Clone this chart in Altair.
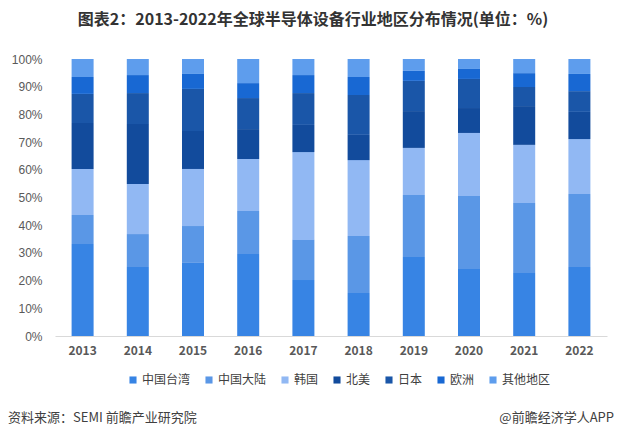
import altair as alt
import pandas as pd

years = ["2013", "2014", "2015", "2016", "2017", "2018", "2019", "2020", "2021", "2022"]
regions = ["中国台湾", "中国大陆", "韩国", "北美", "日本", "欧洲", "其他地区"]
colors = ["#3784e4", "#5a97e6", "#91b8f3", "#124b9c", "#1a56a8", "#1868d3", "#5e9ded"]

taiwan   = [33.2, 24.9, 26.4, 29.6, 20.2, 15.5, 28.5, 24.2, 22.7, 24.9]
mainland = [10.5, 11.9, 13.3, 15.5, 14.5, 20.6, 22.4, 26.3, 25.3, 26.4]
korea    = [16.6, 18.1, 20.6, 18.8, 31.7, 27.4, 17.0, 22.8, 21.0, 19.8]
namerica = [16.6, 21.6, 13.7, 10.8, 9.8, 9.1, 13.3, 9.0, 14.0, 9.8]
japan    = [10.5, 11.2, 15.2, 11.2, 11.5, 14.4, 10.9, 10.5, 6.9, 7.5]
europe   = [6.1, 6.5, 5.4, 5.4, 6.5, 6.5, 3.6, 3.6, 5.0, 6.2]
others   = [6.5, 5.8, 5.4, 8.7, 5.8, 6.5, 4.3, 3.6, 5.1, 5.4]

series = [taiwan, mainland, korea, namerica, japan, europe, others]
rows = []
for i, (name, vals) in enumerate(zip(regions, series)):
    for y, v in zip(years, vals):
        rows.append({"year": y, "region": name, "value": v, "idx": i})
df = pd.DataFrame(rows)

FONT = "Noto Sans CJK SC"
TITLE = "图表2：2013-2022年全球半导体设备行业地区分布情况(单位：%)"

bars = alt.Chart(df).mark_bar(size=22).encode(
    x=alt.X("year:N", title=None, sort=years,
            scale=alt.Scale(paddingInner=0.6, paddingOuter=0.3),
            axis=alt.Axis(labelAngle=0, ticks=False, domainColor="#d9d9d9",
                          labelColor="#595959", labelFontSize=12, labelFontWeight="bold",
                          labelPadding=9, labelFont=FONT)),
    y=alt.Y("value:Q", title=None, stack="normalize",
            axis=alt.Axis(format="%", values=[i / 10 for i in range(11)],
                          labelOverlap=False,
                          grid=False, ticks=False, domain=False,
                          labelColor="#595959", labelFontSize=12, labelPadding=13,
                          labelFont="Liberation Sans")),
    color=alt.Color("region:N", sort=regions,
                    scale=alt.Scale(domain=regions, range=colors),
                    legend=alt.Legend(title=None, orient="none", direction="horizontal",
                                      legendX=72, legendY=315, symbolType="square",
                                      symbolSize=50, symbolStrokeWidth=0,
                                      labelFontSize=12, labelColor="#404040",
                                      labelOffset=3, columnPadding=12, padding=0,
                                      labelFont=FONT)),
    order=alt.Order("idx:Q", sort="ascending"),
)

ttl = pd.DataFrame({"t": [TITLE]})
src = pd.DataFrame({"t": ["资料来源：SEMI 前瞻产业研究院"]})
right = pd.DataFrame({"t": ["@前瞻经济学人APP"]})

title_text = alt.Chart(ttl).mark_text(align="center", baseline="middle", fontSize=16,
                                      fontWeight="bold", color="#333333", font=FONT).encode(
    text="t:N", x=alt.value(258), y=alt.value(-39))
src_text = alt.Chart(src).mark_text(align="left", baseline="middle", fontSize=13,
                                    color="#404040", font=FONT).encode(
    text="t:N", x=alt.value(-47), y=alt.value(359))
right_text = alt.Chart(right).mark_text(align="right", baseline="middle", fontSize=13,
                                        color="#404040", font=FONT).encode(
    text="t:N", x=alt.value(559), y=alt.value(359))

chart = alt.layer(bars, title_text, src_text, right_text).properties(
    width=552, height=277,
    autosize=alt.AutoSizeParams(type="none"),
    padding={"left": 47, "top": 51, "right": 8, "bottom": 95},
).configure_view(stroke=None)

chart.save("out.html", embed_options={"renderer": "svg", "actions": False})
